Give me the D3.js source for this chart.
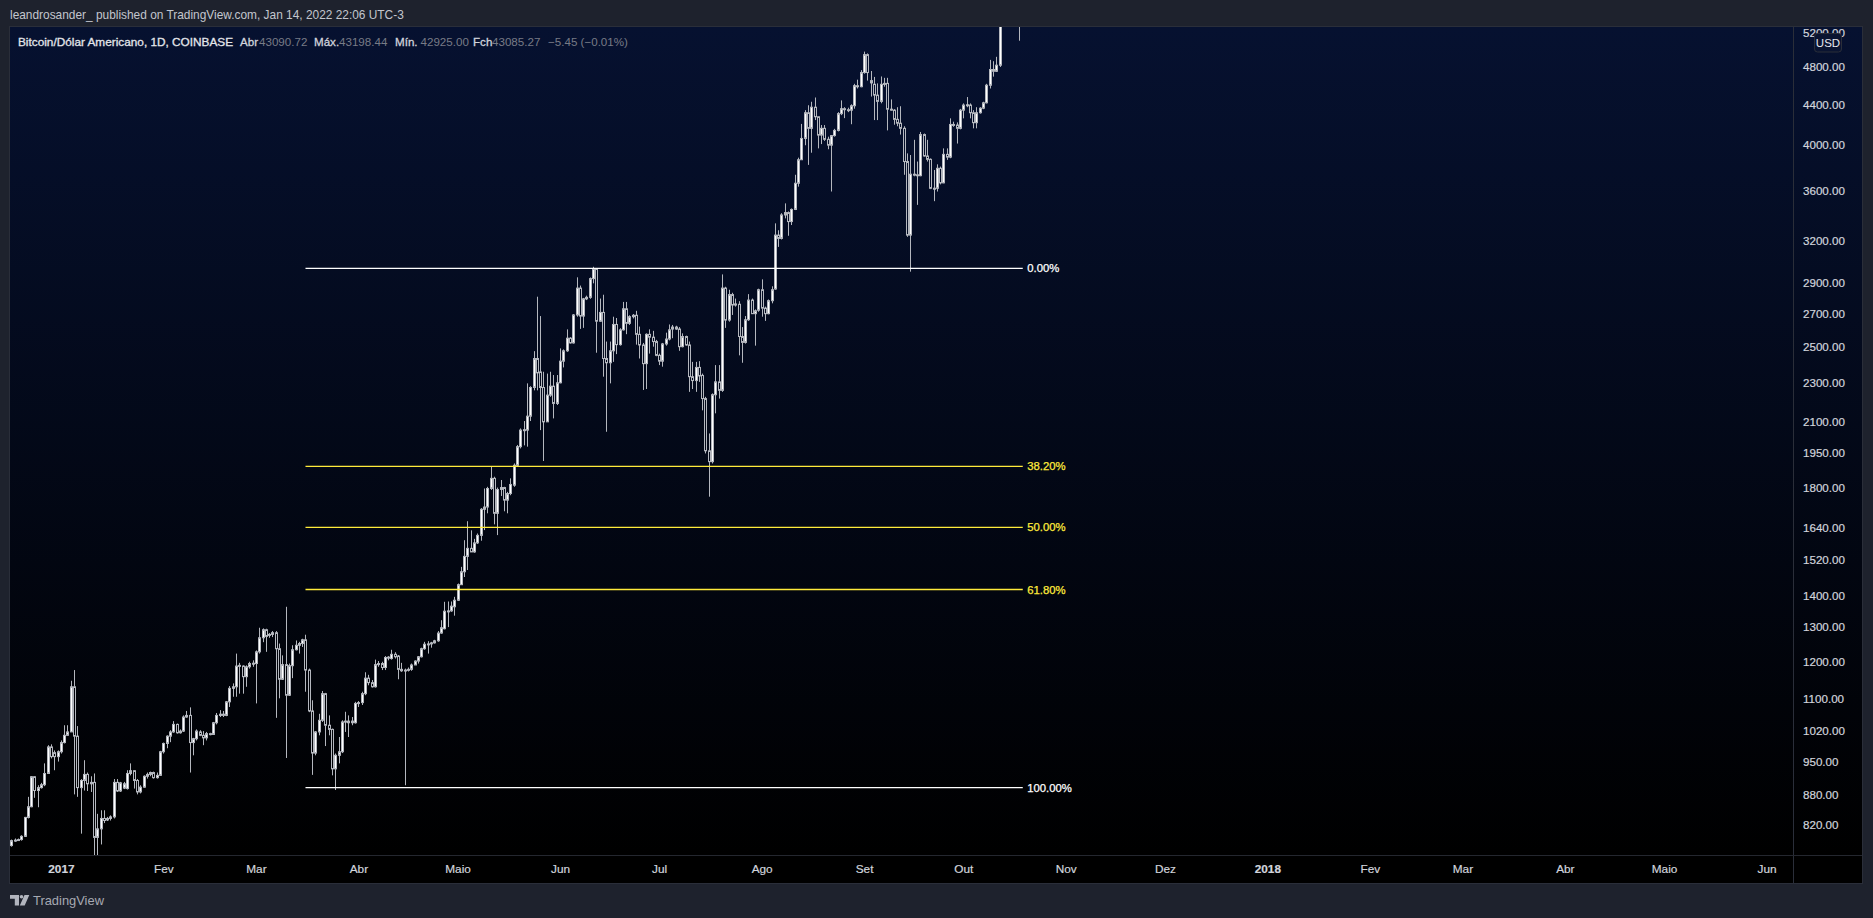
<!DOCTYPE html>
<html><head><meta charset="utf-8">
<style>
html,body{margin:0;padding:0;background:#1e222d;overflow:hidden}
svg{display:block}
text{font-family:"Liberation Sans",Arial,sans-serif}
</style>
<script src="https://cdn.jsdelivr.net/npm/d3@7/dist/d3.min.js"></script>
</head><body>
<svg id="c" width="1873" height="918"></svg>
<script>
const opens=[781,790,791,792,798,834,855,917,888,894,
900,924,983,970,961,972,993,1010,1018,1131,
1008,894,909,922,902,905,796,812,832,829,
832,835,905,887,893,892,924,930,909,885,
895,918,922,926,915,920,972,991,1008,1018,
1036,1016,1020,1054,1058,993,1002,1018,1010,1004,
1014,1012,1040,1058,1061,1058,1092,1127,1131,1187,
1187,1158,1185,1194,1194,1227,1268,1292,1275,1278,
1283,1236,1151,1191,1109,1188,1233,1246,1251,1262,
1176,1069,969,1018,1046,1113,1034,1024,934,964,
972,1042,1044,1040,1040,1088,1090,1113,1154,1142,
1131,1191,1194,1183,1211,1208,1220,1215,1178,1174,
1176,1178,1190,1201,1213,1236,1249,1250,1253,1259,
1282,1295,1349,1350,1363,1384,1435,1479,1533,1562,
1549,1582,1610,1711,1720,1796,1839,1695,1792,1800,
1748,1775,1810,1896,1980,2058,2058,2126,2273,2432,
2357,2273,2098,2233,2280,2190,2298,2417,2476,2550,
2522,2692,2866,2685,2795,2805,2930,3000,2653,2708,
2432,2408,2476,2633,2512,2600,2731,2640,2681,2690,
2573,2510,2403,2573,2556,2530,2450,2417,2516,2545,
2605,2617,2605,2500,2560,2510,2331,2310,2382,2338,
2215,1961,1912,2235,2303,2258,2866,2660,2823,2755,
2760,2560,2525,2662,2787,2700,2722,2855,2735,2700,
2783,2860,3243,3218,3399,3418,3347,3443,3660,3866,
4063,4314,4160,4370,4274,4095,4160,4055,4000,4090,
4140,4305,4355,4345,4340,4385,4595,4584,4738,4940,
4650,4610,4495,4430,4615,4620,4350,4340,4248,4210,
4160,3850,3243,3738,3733,3725,4100,3900,3870,3617,
3617,3790,3663,3915,3890,4198,4192,4160,4340,4392,
4392,4314,4215,4314,4360,4415,4600,4772,4752,4820,
5430,5640,5820,5680,5750,5600];
const closes=[790,791,792,798,834,855,917,888,894,900,
924,983,961,961,972,993,1010,1018,1131,1008,
894,909,922,902,905,796,812,832,828,832,
835,905,887,904,902,924,930,909,885,895,
918,922,926,915,920,972,991,1008,1018,1036,
1016,1020,1054,1058,993,1002,1020,1010,1004,1014,
1012,1040,1058,1061,1058,1092,1127,1131,1187,1189,
1158,1185,1194,1195,1227,1268,1292,1272,1278,1283,
1236,1151,1191,1109,1188,1233,1246,1251,1262,1176,
1069,969,1018,1046,1113,1034,1024,934,964,972,
1042,1044,1040,1044,1088,1090,1113,1154,1142,1131,
1191,1194,1183,1211,1212,1220,1213,1178,1174,1176,
1178,1190,1201,1213,1236,1249,1250,1253,1259,1282,
1298,1349,1350,1365,1384,1435,1479,1533,1562,1549,
1582,1610,1711,1720,1796,1839,1695,1792,1800,1748,
1775,1813,1896,1980,2058,2060,2126,2273,2432,2352,
2273,2098,2233,2280,2190,2298,2417,2476,2550,2522,
2692,2866,2685,2795,2805,2930,3000,2653,2708,2432,
2408,2476,2633,2512,2600,2731,2640,2681,2690,2573,
2510,2403,2573,2556,2530,2450,2417,2516,2545,2600,
2617,2605,2500,2560,2510,2331,2310,2382,2335,2215,
1961,1912,2235,2303,2258,2866,2660,2823,2755,2762,
2560,2525,2662,2787,2700,2718,2855,2735,2700,2783,
2855,3243,3218,3399,3418,3347,3443,3660,3866,4063,
4314,4160,4370,4274,4095,4160,4055,4000,4090,4140,
4305,4355,4345,4340,4385,4595,4584,4738,4940,4738,
4625,4495,4430,4610,4620,4350,4340,4248,4210,4160,
3850,3243,3738,3733,3725,4100,3900,3870,3617,3618,
3790,3663,3915,3890,4198,4192,4160,4340,4392,4395,
4314,4215,4314,4360,4415,4600,4772,4752,4820,5430,
5640,5820,5680,5750,5600,5590];
const highs=[792,794,794,800,835,875,918,918,899,904,
946,987,989,975,975,998,1034,1034,1147,1176,
1032,912,953,926,918,924,841,848,848,835,
838,912,912,906,906,931,946,931,912,899,
920,926,928,928,926,974,993,1010,1022,1044,
1038,1024,1058,1069,1078,1004,1024,1022,1020,1018,
1016,1042,1064,1071,1069,1094,1133,1140,1222,1196,
1189,1189,1199,1203,1231,1298,1296,1295,1282,1288,
1288,1251,1217,1363,1194,1246,1260,1256,1265,1277,
1180,1096,1020,1062,1120,1115,1058,1026,968,1006,
1046,1067,1058,1054,1092,1094,1118,1170,1163,1149,
1205,1201,1199,1215,1215,1233,1226,1218,1196,1180,
1183,1194,1203,1215,1239,1256,1258,1256,1262,1288,
1321,1379,1380,1380,1395,1439,1496,1592,1664,1629,
1597,1617,1716,1796,1803,1889,1846,1800,1832,1803,
1782,1839,1904,1988,2066,2102,2295,2280,2474,2809,
2685,2358,2348,2358,2340,2340,2490,2484,2603,2556,
2698,2939,2883,2801,2816,2938,3012,3002,2797,2822,
2530,2530,2681,2673,2610,2775,2775,2690,2698,2718,
2620,2522,2579,2603,2594,2540,2460,2522,2583,2633,
2630,2625,2617,2579,2565,2530,2413,2413,2417,2348,
2224,2042,2242,2395,2395,2959,2875,2855,2835,2797,
2780,2617,2685,2826,2797,2727,2862,2925,2745,2791,
2878,3333,3280,3413,3492,3427,3451,3733,3885,4203,
4340,4390,4426,4470,4275,4192,4192,4080,4095,4155,
4320,4440,4370,4365,4400,4615,4660,4765,4975,4954,
4755,4690,4620,4695,4680,4680,4450,4350,4370,4380,
4180,3924,3909,4050,3850,4125,4110,4050,3878,3775,
3825,3805,3970,3970,4258,4225,4218,4353,4409,4475,
4409,4340,4370,4370,4426,4615,4880,4865,4915,5480,
5860,5850,5860,5780,5770,5750];
const lows=[779,788,790,790,797,832,854,873,854,892,
897,924,957,931,950,968,991,1010,1018,880,
875,803,888,887,885,764,763,783,823,827,
828,832,885,885,891,890,920,892,880,882,
894,913,918,913,913,919,968,980,994,1016,
1014,1014,1018,1052,926,964,998,1008,987,998,
1010,1011,1036,1054,1054,1056,1079,1105,1105,1113,
1113,1131,1180,1185,1088,1222,1255,1227,1268,1270,
1052,1101,1149,958,1107,1154,1231,1222,1241,1118,
1066,921,964,1010,1042,985,1010,920,889,946,
969,1018,1006,1034,1038,1079,1084,1109,1135,1129,
1129,1185,1176,1176,1203,1205,1208,1151,1171,899,
1172,1174,1190,1194,1211,1233,1222,1239,1251,1256,
1280,1293,1300,1347,1335,1382,1461,1461,1485,1549,
1546,1578,1590,1630,1695,1790,1652,1611,1765,1703,
1695,1768,1803,1892,1972,1986,1980,2102,2258,2258,
2058,1915,2098,2224,2115,2182,2295,2382,2470,2518,
2518,2681,2606,2612,2787,2795,2898,2465,2650,2331,
2050,2295,2413,2457,2506,2596,2574,2630,2670,2512,
2432,2260,2265,2460,2500,2445,2395,2386,2506,2537,
2550,2600,2476,2496,2506,2250,2265,2250,2303,2155,
1949,1762,1904,2140,2215,2250,2612,2650,2692,2745,
2450,2408,2518,2655,2698,2506,2712,2681,2655,2696,
2766,2855,3155,3210,3372,3238,3320,3438,3631,3866,
3999,3820,3930,4241,3970,4010,4040,3962,3590,4080,
4130,4290,4260,4320,4200,4355,4565,4578,4725,4650,
4480,4241,4241,4410,4584,4140,4335,4195,4180,4100,
3733,3230,2978,3720,3480,3720,3895,3850,3610,3510,
3590,3650,3660,3865,3880,4175,4015,4150,4258,4370,
4258,4160,4160,4305,4350,4409,4565,4693,4745,4800,
5390,5570,5560,5580,5450,5103];
const priceTicks=[5200,4800,4400,4000,3600,3200,2900,2700,2500,2300,2100,1950,1800,1640,1520,1400,1300,1200,1100,1020,950,880,820];
const timeTickDates=["2017-01-01","2017-02-01","2017-03-01","2017-04-01","2017-05-01","2017-06-01","2017-07-01","2017-08-01","2017-09-01","2017-10-01","2017-11-01","2017-12-01","2018-01-01","2018-02-01","2018-03-01","2018-04-01","2018-05-01","2018-06-01"];
const timeTickLabels=["2017","Fev","Mar","Abr","Maio","Jun","Jul","Ago","Set","Out","Nov","Dez","2018","Fev","Mar","Abr","Maio","Jun"];
const fibLabels=["0.00%","38.20%","50.00%","61.80%","100.00%"];
const fibPrices=[3001,1891,1640,1419,894];
const fibColors=["#ffffff","#ffeb3b","#ffeb3b","#ffeb3b","#ffffff"];
const fibStart="2017-03-16", fibEnd="2017-10-19";
const firstDay=new Date(Date.UTC(2016,11,17));

const L=10,R=1793,T=27,B=855,OUTR=1862,AXB=883;
const svg=d3.select("#c");
const defs=svg.append("defs");
const g=defs.append("linearGradient").attr("id","bg").attr("gradientUnits","userSpaceOnUse")
 .attr("x1",0).attr("x2",0).attr("y1",T).attr("y2",B);
g.append("stop").attr("offset",0).attr("stop-color","#061130");
g.append("stop").attr("offset",1).attr("stop-color","#000000");
defs.append("clipPath").attr("id","plot").append("rect").attr("x",L).attr("y",T).attr("width",R-L).attr("height",B-T);
defs.append("clipPath").attr("id","ax").append("rect").attr("x",R).attr("y",T).attr("width",OUTR-R).attr("height",B-T);

svg.append("rect").attr("x",9).attr("y",26).attr("width",OUTR-9+1).attr("height",AXB-26+1).attr("fill","#2a2e39");
svg.append("rect").attr("x",L).attr("y",T).attr("width",OUTR-L).attr("height",B-T).attr("fill","url(#bg)");
svg.append("rect").attr("x",L).attr("y",B+1).attr("width",OUTR-L).attr("height",AXB-B-1).attr("fill","#000");
svg.append("rect").attr("x",R).attr("y",T).attr("width",1).attr("height",AXB-T).attr("fill","#2a2e39");
svg.append("rect").attr("x",L).attr("y",B).attr("width",OUTR-L).attr("height",1).attr("fill","#24272f");

const x=d3.scaleUtc().domain([firstDay,new Date(Date.UTC(2018,5,1))]).range([11.3,1766.5]);
const y=d3.scaleLog().domain([764,5269]).range([B,T]);
const px=v=>Math.round(v);

const bars=opens.map((o,i)=>({t:d3.utcDay.offset(firstDay,i),o,c:closes[i],h:highs[i],l:lows[i]}));
const WICK="#b4b7be";
const plot=svg.append("g").attr("clip-path","url(#plot)");
plot.append("g").selectAll("line").data(bars).join("line")
 .attr("x1",d=>px(x(d.t))+0.5).attr("x2",d=>px(x(d.t))+0.5)
 .attr("y1",d=>y(d.h)).attr("y2",d=>y(d.l))
 .attr("stroke",WICK).attr("stroke-width",1);
plot.append("g").selectAll("rect").data(bars).join("rect")
 .attr("x",d=>px(x(d.t))-0.5).attr("width",2)
 .attr("y",d=>y(Math.max(d.o,d.c))).attr("height",d=>Math.max(1,Math.abs(y(d.o)-y(d.c))))
 .attr("fill",d=>d.c>=d.o?"#ffffff":"url(#bg)")
 .attr("stroke",WICK).attr("stroke-width",1);

// Fibonacci retracement levels
const fibs=fibPrices.map((p,i)=>({p,label:fibLabels[i],color:fibColors[i]}));
const fx0=x(new Date(fibStart+"T00:00Z")), fx1=x(new Date(fibEnd+"T00:00Z"));
const fg=svg.append("g");
fg.selectAll("line").data(fibs).join("line")
 .attr("x1",fx0).attr("x2",fx1).attr("y1",d=>y(d.p)).attr("y2",d=>y(d.p))
 .attr("stroke",d=>d.color).attr("stroke-width",1.3);
fg.selectAll("text").data(fibs).join("text")
 .attr("x",fx1+4.5).attr("y",d=>y(d.p)+4).attr("fill",d=>d.color)
 .attr("stroke",d=>d.color).attr("stroke-width",0.25)
 .attr("font-size",11.3).text(d=>d.label);

// axes
const ay=svg.append("g").attr("clip-path","url(#ax)").attr("transform",null)
 .append("g").attr("transform",`translate(${R},0)`)
 .call(d3.axisRight(y).tickValues(priceTicks).tickFormat(d3.format(".2f")).tickSize(0).tickPadding(10));
ay.select(".domain").remove();
ay.selectAll("text").attr("fill","#d1d4dc").attr("stroke","#d1d4dc").attr("stroke-width",0.2)
 .attr("font-size",11.6).attr("font-family",'"Liberation Sans",Arial,sans-serif');

const ax=svg.append("g").attr("transform",`translate(0,${B})`)
 .call(d3.axisBottom(x).tickValues(timeTickDates.map(d=>new Date(d+"T00:00Z")))
 .tickFormat((d,i)=>timeTickLabels[i]).tickSize(0).tickPadding(10));
ax.select(".domain").remove();
ax.selectAll("text").attr("fill","#d1d4dc").attr("stroke","#d1d4dc").attr("stroke-width",0.2)
 .attr("font-size",11.8).attr("font-family",'"Liberation Sans",Arial,sans-serif')
 .attr("font-weight",(d,i)=>/^\d/.test(timeTickLabels[i])?700:400);

// USD badge
svg.append("rect").attr("x",1814.5).attr("y",33.5).attr("width",27).attr("height",18.5).attr("rx",3)
 .attr("fill","#0a1431").attr("stroke","#2a2e39");
svg.append("text").attr("x",1828).attr("y",47).attr("text-anchor","middle").attr("fill","#e6e8ee").attr("font-size",11.5).text("USD");

// header
svg.append("text").attr("x",10).attr("y",19).attr("fill","#c3c6ce").attr("font-size",11.9)
 .text("leandrosander_ published on TradingView.com, Jan 14, 2022 22:06 UTC-3");
const legend=[[18,"Bitcoin/Dólar Americano, 1D, COINBASE","#e3e5ea",0.3,11.8],[240,"Abr","#d1d4dc",0.3,11.6],[259,"43090.72","#787b86",0,11.6],
 [314,"Máx.","#d1d4dc",0.3,11.6],[339,"43198.44","#787b86",0,11.6],[395,"Mín.","#d1d4dc",0.3,11.6],[420.5,"42925.00","#787b86",0,11.6],
 [473,"Fch","#d1d4dc",0.3,11.6],[492,"43085.27","#787b86",0,11.6],[548,"−5.45 (−0.01%)","#787b86",0,11.6]];
svg.append("g").selectAll("text").data(legend).join("text")
 .attr("x",d=>d[0]).attr("y",46).attr("fill",d=>d[2]).attr("stroke",d=>d[2]).attr("stroke-width",d=>d[3])
 .attr("font-size",d=>d[4]).text(d=>d[1]);

// footer logo and wordmark
svg.append("path").attr("fill","#b2b5be")
 .attr("d","M10 895h9v10.5h-4.2v-6.8H10z M24.5 895h4.8l-4.6 10.5h-4.9z");
svg.append("circle").attr("cx",21.5).attr("cy",896.8).attr("r",1.8).attr("fill","#b2b5be");
svg.append("text").attr("x",33).attr("y",905).attr("fill","#a6a9b2").attr("font-size",12.9).text("TradingView");
</script>
</body></html>
